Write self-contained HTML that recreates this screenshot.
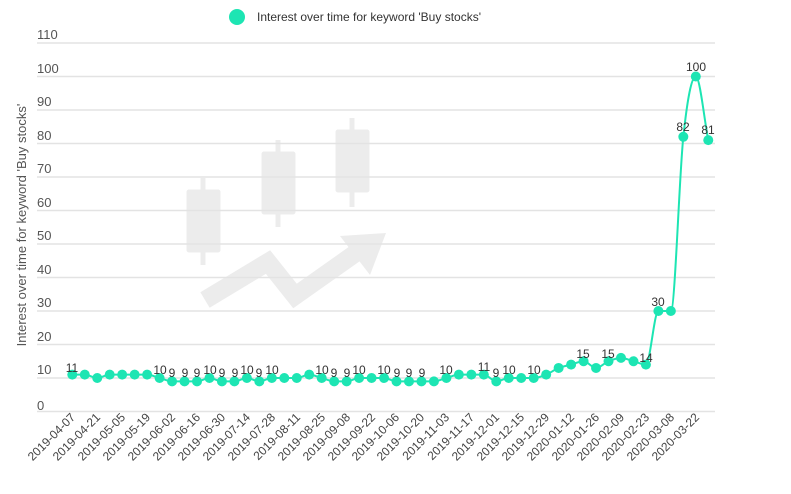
<!DOCTYPE html>
<html><head><meta charset="utf-8"><style>
html,body{margin:0;padding:0;background:#fff;}
svg{display:block;font-family:"Liberation Sans",sans-serif;}
</style></head><body>
<svg id="s" width="791" height="494" xmlns="http://www.w3.org/2000/svg">
<g fill="#ececec" stroke="#ececec">
<line x1="203" y1="178" x2="203" y2="265" stroke-width="5"/>
<rect x="187" y="190" width="33" height="62" rx="2"/>
<line x1="278" y1="140" x2="278" y2="227" stroke-width="5"/>
<rect x="262" y="152" width="33" height="62" rx="2"/>
<line x1="352" y1="118" x2="352" y2="207" stroke-width="5"/>
<rect x="336" y="130" width="33" height="62" rx="2"/>
<polyline points="205,300 268,262 295,296 360,250" fill="none" stroke-width="18" stroke-linejoin="miter"/>
<polygon points="340,236 386,233 370,275" stroke="none"/>
</g>
<g id="grid" stroke="#e3e3e3" stroke-width="1.5"></g>
<g font-size="13" fill="#555">
<text x="37" y="39">110</text><text x="37" y="73">100</text><text x="37" y="106">90</text>
<text x="37" y="140">80</text><text x="37" y="173">70</text><text x="37" y="207">60</text>
<text x="37" y="240">50</text><text x="37" y="274">40</text><text x="37" y="307">30</text>
<text x="37" y="341">20</text><text x="37" y="374">10</text><text x="37" y="410">0</text>
</g>
<text transform="translate(26,225) rotate(-90)" text-anchor="middle" font-size="13" fill="#555">Interest over time for keyword 'Buy stocks'</text>
<circle cx="237" cy="17" r="8" fill="#1de5b3"/>
<text x="257" y="21" font-size="12" fill="#333">Interest over time for keyword 'Buy stocks'</text>
<path id="ln" fill="none" stroke="#1de5b3" stroke-width="2"/>
<g id="pts" fill="#1de5b3"></g>
<g font-size="12" fill="#333" text-anchor="middle">
<text x="72" y="372">11</text>
<text x="160" y="374">10</text><text x="172" y="377">9</text><text x="185" y="377">9</text><text x="197" y="377">9</text>
<text x="210" y="374">10</text><text x="222" y="377">9</text><text x="235" y="377">9</text><text x="247" y="374">10</text>
<text x="259" y="377">9</text><text x="272" y="374">10</text>
<text x="322" y="374">10</text><text x="334" y="377">9</text><text x="347" y="377">9</text><text x="359" y="374">10</text>
<text x="384" y="374">10</text><text x="397" y="377">9</text><text x="409" y="377">9</text><text x="422" y="377">9</text>
<text x="446" y="374">10</text><text x="484" y="371">11</text><text x="496" y="377">9</text><text x="509" y="374">10</text>
<text x="534" y="374">10</text><text x="583" y="358">15</text><text x="608" y="358">15</text><text x="646" y="362">14</text>
<text x="658" y="306">30</text><text x="683" y="131">82</text><text x="696" y="71">100</text><text x="708" y="134">81</text>
</g>
<g font-size="12" fill="#444" text-anchor="end">
<text transform="translate(76,418) rotate(-45)">2019-04-07</text>
<text transform="translate(101,418) rotate(-45)">2019-04-21</text>
<text transform="translate(126,418) rotate(-45)">2019-05-05</text>
<text transform="translate(151,418) rotate(-45)">2019-05-19</text>
<text transform="translate(176,418) rotate(-45)">2019-06-02</text>
<text transform="translate(201,418) rotate(-45)">2019-06-16</text>
<text transform="translate(226,418) rotate(-45)">2019-06-30</text>
<text transform="translate(251,418) rotate(-45)">2019-07-14</text>
<text transform="translate(276,418) rotate(-45)">2019-07-28</text>
<text transform="translate(301,418) rotate(-45)">2019-08-11</text>
<text transform="translate(326,418) rotate(-45)">2019-08-25</text>
<text transform="translate(351,418) rotate(-45)">2019-09-08</text>
<text transform="translate(376,418) rotate(-45)">2019-09-22</text>
<text transform="translate(400,418) rotate(-45)">2019-10-06</text>
<text transform="translate(425,418) rotate(-45)">2019-10-20</text>
<text transform="translate(450,418) rotate(-45)">2019-11-03</text>
<text transform="translate(475,418) rotate(-45)">2019-11-17</text>
<text transform="translate(500,418) rotate(-45)">2019-12-01</text>
<text transform="translate(525,418) rotate(-45)">2019-12-15</text>
<text transform="translate(550,418) rotate(-45)">2019-12-29</text>
<text transform="translate(575,418) rotate(-45)">2020-01-12</text>
<text transform="translate(600,418) rotate(-45)">2020-01-26</text>
<text transform="translate(625,418) rotate(-45)">2020-02-09</text>
<text transform="translate(650,418) rotate(-45)">2020-02-23</text>
<text transform="translate(675,418) rotate(-45)">2020-03-08</text>
<text transform="translate(700,418) rotate(-45)">2020-03-22</text>
</g>
</svg>
<script>
var NS="http://www.w3.org/2000/svg";
var g=document.getElementById("grid");
for(var v=0;v<=110;v+=10){var y=411.5-v*3.35;var l=document.createElementNS(NS,"line");
l.setAttribute("x1",37);l.setAttribute("x2",715);l.setAttribute("y1",y);l.setAttribute("y2",y);g.appendChild(l);}
var d=[11,11,10,11,11,11,11,10,9,9,9,10,9,9,10,9,10,10,10,11,10,9,9,10,10,10,9,9,9,9,10,11,11,11,9,10,10,10,11,13,14,15,13,15,16,15,14,30,30,82,100,81];
var n=d.length,h=12.47;
var P=d.map(function(v,i){return [72.3+h*i,411.5-v*3.35];});
var del=[],m=[];
for(var i=0;i<n-1;i++)del.push((P[i+1][1]-P[i][1])/h);
m[0]=del[0];m[n-1]=del[n-2];
for(var i=1;i<n-1;i++){if(del[i-1]*del[i]<=0)m[i]=0;else m[i]=(del[i-1]+del[i])/2;}
for(var i=0;i<n-1;i++){if(del[i]==0){m[i]=0;m[i+1]=0;continue;}
var a=m[i]/del[i],b=m[i+1]/del[i],s2=a*a+b*b;if(s2>9){var t=3/Math.sqrt(s2);m[i]=t*a*del[i];m[i+1]=t*b*del[i];}}
var s="M"+P[0][0]+","+P[0][1];
for(var i=0;i<n-1;i++){s+=" C"+(P[i][0]+h/3)+","+(P[i][1]+m[i]*h/3)+" "+(P[i+1][0]-h/3)+","+(P[i+1][1]-m[i+1]*h/3)+" "+P[i+1][0]+","+P[i+1][1];}
document.getElementById("ln").setAttribute("d",s);
var pg=document.getElementById("pts");
P.forEach(function(p){var c=document.createElementNS(NS,"circle");c.setAttribute("cx",p[0]);c.setAttribute("cy",p[1]);c.setAttribute("r",5);pg.appendChild(c);});
</script>
</body></html>
